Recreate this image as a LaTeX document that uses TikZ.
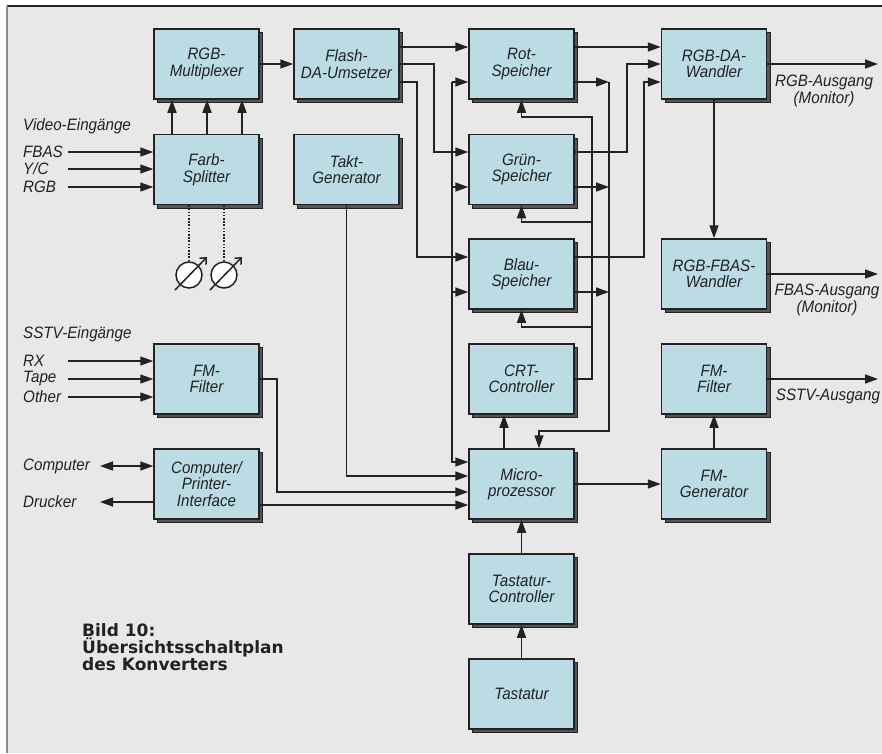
\documentclass[tikz,border=0pt]{standalone}
\usepackage{fontspec}
\setmainfont{Liberation Sans}
\newfontfamily\boxfont[FakeStretch=0.92]{Liberation Sans}
\newfontfamily\capfont{DejaVu Sans}
\usetikzlibrary{arrows.meta,shadows}
\definecolor{bgcol}{HTML}{E8E8E8}
\definecolor{boxcol}{HTML}{BBDBE5}
\definecolor{linecol}{HTML}{222222}
\definecolor{shadecol}{HTML}{555555}
\definecolor{framecol}{HTML}{8A8A8A}
\tikzset{
  blk/.style={rectangle, minimum width=105pt, minimum height=70pt, inner sep=0pt,
    fill=boxcol, draw=linecol, line width=1.5pt, align=center, text=linecol,
    font=\boxfont\itshape\fontsize{16.5}{16.5}\selectfont,
    drop shadow={shadow xshift=3.5pt, shadow yshift=-3.5pt, fill=shadecol, draw=linecol, line width=1pt, opacity=1}},
  lbl/.style={inner sep=0pt, anchor=west, text=linecol, font=\boxfont\itshape\fontsize{16.5}{16.5}\selectfont},
  outlbl/.style={inner sep=0pt, align=center, text=linecol, font=\boxfont\itshape\fontsize{16.5}{17}\selectfont},
  con/.style={draw=linecol, line width=1.5pt},
  arr/.style={con, -{Triangle[length=13pt,width=9pt]}},
  arrb/.style={con, {Triangle[length=13pt,width=9pt]}-{Triangle[length=13pt,width=9pt]}},
  pot/.style={circle, minimum size=26pt, inner sep=0pt, fill=white, draw=linecol, line width=1.5pt},
  potarr/.style={con, -{Straight Barb[length=5pt,width=9pt]}},
  dots/.style={con, dash pattern=on 1.5pt off 1.7pt}
}
\begin{document}
\begin{tikzpicture}[x=1pt,y=-1pt]
\useasboundingbox (0,0) rectangle (882,753);
\fill[white] (0,0) rectangle (882,753);
\fill[bgcol] (7,6) rectangle (882,753);
\draw[linecol, line width=1.3pt] (7,6) -- (882,6);
\draw[framecol, line width=2pt] (7,6) -- (7,753);

% blocks
\node[blk] (mux)   at (206.5,64)  {RGB-\\Multiplexer};
\node[blk] (split) at (206.5,169.5) {Farb-\\Splitter};
\node[blk] (fmfa)  at (206.5,379) {FM-\\Filter};
\node[blk] (cpi)   at (206.5,484) {Computer/\\Printer-\\Interface};
\node[blk] (flash) at (346.5,64)  {Flash-\\DA-Umsetzer};
\node[blk] (takt)  at (346.5,169.5) {Takt-\\Generator};
\node[blk] (rot)   at (521.5,64)  {Rot-\\Speicher};
\node[blk] (gruen) at (521.5,169.5) {Grün-\\Speicher};
\node[blk] (blau)  at (521.5,274) {Blau-\\Speicher};
\node[blk] (crt)   at (521.5,379) {CRT-\\Controller};
\node[blk] (micro) at (521.5,484) {Micro-\\prozessor};
\node[blk] (tctrl) at (521.5,589) {Tastatur-\\Controller};
\node[blk] (tast)  at (521.5,694) {Tastatur};
\node[blk] (rgbda) at (714,64)    {RGB-DA-\\Wandler};
\node[blk] (rgbfb) at (714,274)   {RGB-FBAS-\\Wandler};
\node[blk] (fmfb)  at (714,379)   {FM-\\Filter};
\node[blk] (fmgen) at (714,484)   {FM-\\Generator};

% left labels
\node[lbl] (vein) at (23,126) {Video-Eingänge};
\node[lbl] (fbas) at (23,152) {FBAS};
\node[lbl] (yc)   at (23,169) {Y/C};
\node[lbl] (rgb)  at (23,187) {RGB};
\node[lbl] (sein) at (23,334) {SSTV-Eingänge};
\node[lbl] (rx)   at (23,361) {RX};
\node[lbl] (tape) at (23,379) {Tape};
\node[lbl] (oth)  at (23,397) {Other};
\node[lbl] (comp) at (23,466) {Computer};
\node[lbl] (druck) at (23,502) {Drucker};

% right labels
\node[outlbl] (oa) at (824,91) {RGB-Ausgang\\(Monitor)};
\node[outlbl] (ob) at (827,300) {FBAS-Ausgang\\(Monitor)};
\node[outlbl] (oc) at (828,396) {SSTV-Ausgang};
\coordinate (e1) at (878,64);
\coordinate (e2) at (878,274);
\coordinate (e3) at (878,379);

% caption
\node[anchor=north west, inner sep=0pt, align=left, text=linecol,
  font=\capfont\bfseries\fontsize{17}{17}\selectfont] (cap) at (82,623)
  {Bild 10:\\Übersichtsschaltplan\\des Konverters};

% inputs
\foreach \n in {fbas,yc,rgb} \draw[arr] (\n -| 68,0) -- (split.west |- \n);
\foreach \n in {rx,tape,oth} \draw[arr] (\n -| 68,0) -- (fmfa.west |- \n);
\draw[arrb] (comp -| 100,0) -- (cpi.west |- comp);
\draw[arr] (cpi.west |- druck) -- (druck -| 100,0);

% splitter -> mux
\foreach \x in {172,207,242} \draw[arr] (split.north -| \x,0) -- (mux.south -| \x,0);
\draw[arr] (mux.east) -- (flash.west);

% pots
\node[pot] (p1) at (189,275) {};
\node[pot] (p2) at (224,275) {};
\draw[dots] (split.south -| p1) -- (p1.north);
\draw[dots] (split.south -| p2) -- (p2.north);
\draw[potarr] ([shift={(-14,15)}]p1.center) -- ([shift={(18,-18)}]p1.center);
\draw[potarr] ([shift={(-14,15)}]p2.center) -- ([shift={(18,-18)}]p2.center);

% flash outputs
\draw[arr] (flash.east |- 0,47) -- (rot.west |- 0,47);
\draw[arr] (flash.east) -| (434,152) -- (gruen.west |- 0,152);
\draw[arr] (flash.east |- 0,82) -| (417,257) -- (blau.west |- 0,257);

% data bus x=452
\coordinate (busa) at (452,82);
\draw[arr] (busa) |- (micro.west |- 0,462);
\draw[arr] (busa) -- (rot.west |- busa);
\draw[arr] (busa |- 0,187) -- (gruen.west |- 0,187);
\draw[arr] (busa |- 0,292) -- (blau.west |- 0,292);

% takt, fm filter, interface -> micro
\draw[arr] (takt.south) |- (micro.west |- 0,476);
\draw[arr] (fmfa.east) -| (277,492) -- (micro.west |- 0,492);
\draw[arr] (cpi.east |- 0,505) -- (micro.west |- 0,505);

% micro -> crt
\draw[arr] (micro.north -| 504,0) -- (crt.south -| 504,0);

% crt -> speicher (x=592)
\draw[arr] (crt.east) -| (592,117) -| (rot.south);
\draw[arr] (592,222) -| (gruen.south);
\draw[arr] (592,327) -| (blau.south);

% speicher -> micro (x=609)
\coordinate (busb) at (609,82);
\draw[arr] (rot.east |- busb) -- (busb);
\draw[arr] (gruen.east |- 0,187) -- (busb |- 0,187);
\draw[arr] (blau.east |- 0,292) -- (busb |- 0,292);
\draw[arr] (busb) |- (539,431) -- (micro.north -| 539,0);

% speicher -> rgb-da
\draw[arr] (rot.east |- 0,47) -- (rgbda.west |- 0,47);
\draw[arr] (gruen.east |- 0,152) -| (627,64) -- (rgbda.west);
\draw[arr] (blau.east |- 0,257) -| (644,82) -- (rgbda.west |- 0,82);

% right column
\draw[arr] (rgbda.east) -- (e1);
\draw[arr] (rgbda.south) -- (rgbfb.north);
\draw[arr] (rgbfb.east) -- (e2);
\draw[arr] (fmfb.east) -- (e3);
\draw[arr] (fmgen.north) -- (fmfb.south);
\draw[arr] (micro.east) -- (fmgen.west);

% keyboard
\draw[arr] (tctrl.north) -- (micro.south);
\draw[arr] (tast.north) -- (tctrl.south);
\end{tikzpicture}
\end{document}
